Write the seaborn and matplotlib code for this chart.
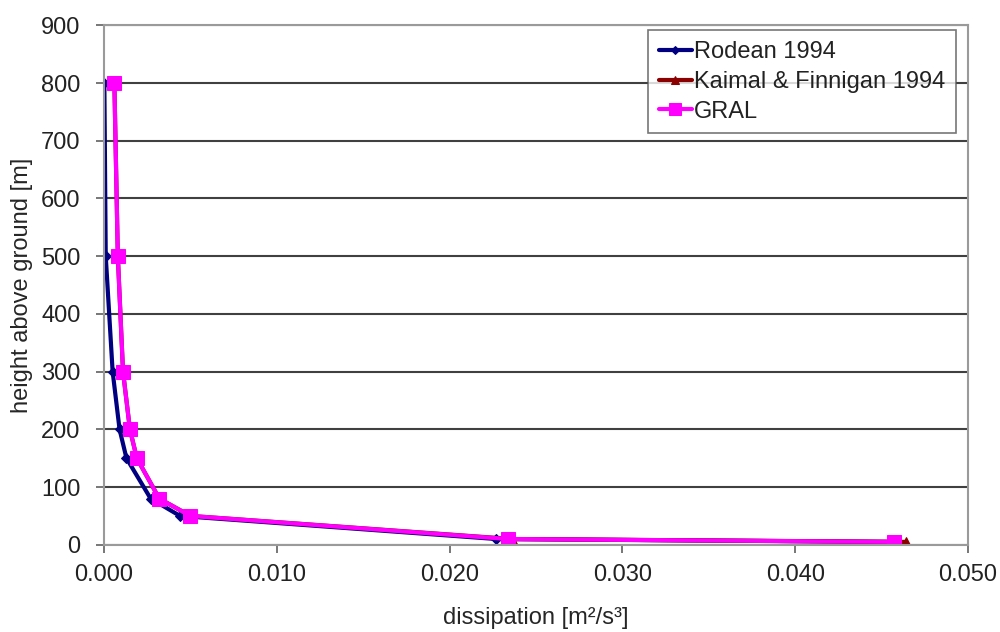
import numpy as np
import pandas as pd
import seaborn as sns
import matplotlib.pyplot as plt

# heights above ground [m]
height = [800, 500, 300, 200, 150, 80, 50, 10, 5]

# dissipation [m2/s3]
rodean = [0.00002, 0.0001, 0.0005, 0.0009, 0.0013, 0.0027, 0.0044, 0.0227, 0.0455]
kaimal = [0.0006, 0.0008, 0.0011, 0.0015, 0.0019, 0.0032, 0.0050, 0.0236, 0.0464]
gral = [0.0006, 0.0008, 0.0011, 0.0015, 0.0019, 0.0032, 0.0050, 0.0234, 0.0457]

series_names = ['Rodean 1994', 'Kaimal & Finnigan 1994', 'GRAL']
series_vals = [rodean, kaimal, gral]
colors = ['#000080', '#8B0000', '#FF00FF']
markers = ['D', '^', 's']
msizes = [5, 7, 10]

x_ticks = [0.0, 0.01, 0.02, 0.03, 0.04, 0.05]
y_ticks = list(range(0, 901, 100))

sns.set_style('white')
plt.rcParams['font.family'] = ['Liberation Sans', 'DejaVu Sans']
plt.rcParams['text.color'] = '#222222'

fig, ax = plt.subplots(figsize=(10, 6.32), dpi=100)
fig.subplots_adjust(left=0.104, right=0.968, top=0.96, bottom=0.138)

for name, vals, c, m, ms in zip(series_names, series_vals, colors, markers, msizes):
    df = pd.DataFrame({'x': vals, 'y': height})
    sns.lineplot(data=df, x='x', y='y', sort=False, estimator=None, ax=ax,
                 color=c, marker=m, markersize=ms, markeredgecolor=c,
                 linewidth=3, label=name)

ax.set_xlim(0, 0.05)
ax.set_ylim(0, 900)
ax.set_xticks(x_ticks)
ax.set_xticklabels([f'{t:.3f}' for t in x_ticks])
ax.set_yticks(y_ticks)
ax.yaxis.grid(True, color='#404040', linewidth=1.5)
ax.xaxis.grid(False)
for s in ax.spines.values():
    s.set_color('#9a9a9a')
    s.set_linewidth(1.5)
ax.tick_params(axis='both', labelsize=17, length=6, width=1.2, color='#606060',
               labelcolor='#222222', bottom=True, left=True, direction='out')
ax.tick_params(axis='x', pad=8)
ax.tick_params(axis='y', pad=11)

ax.set_xlabel('dissipation [m²/s³]', fontsize=17, va='center')
ax.set_ylabel('height above ground [m]', fontsize=17, va='center')
ax.xaxis.set_label_coords(0.5, -0.140)
ax.yaxis.set_label_coords(-0.095, 0.5)

leg = ax.legend(loc='upper right', bbox_to_anchor=(0.986, 0.99), fontsize=17,
                frameon=True, fancybox=False, edgecolor='#555555',
                handlelength=1.4, handletextpad=0.1, borderpad=0.45,
                labelspacing=0.33, borderaxespad=0.0, markerscale=0.8)
leg.get_frame().set_linewidth(1.2)

fig.savefig('out.png', dpi=100)
